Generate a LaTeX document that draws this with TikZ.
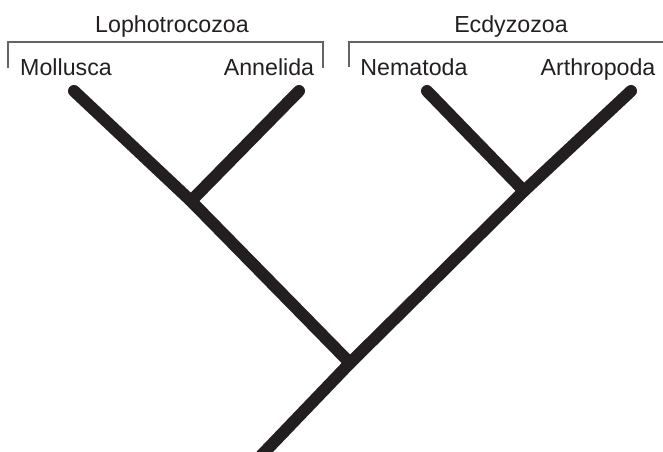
\documentclass[tikz,border=0pt]{standalone}
\usepackage{fontspec}
\setmainfont{Liberation Sans}
\usepackage{tikz}
\usetikzlibrary{positioning}
\definecolor{inkblack}{RGB}{35,31,32}
\definecolor{bracketgray}{RGB}{100,100,102}

\begin{document}
\begin{tikzpicture}[x=0.025cm, y=-0.025cm,
    branch/.style={draw=inkblack, line width=0.3cm, line cap=round},
    trunk/.style={draw=inkblack, line width=0.3cm, line cap=butt},
    taxon/.style={anchor=base, text=inkblack, inner sep=0pt, font=\fontsize{16.5}{19}\selectfont},
    clade/.style={taxon},
    bracket/.style={draw=bracketgray, line width=0.9pt}
]
    \clip (0,0) rectangle (663,452);

    \coordinate (root) at (350,363);
    \coordinate (base) at (255,462);
    \coordinate (lopho) at (191,201);
    \coordinate (ecdy) at (524,191);
    \coordinate (moll) at (74,91);
    \coordinate (anne) at (299,91);
    \coordinate (nema) at (427,91);
    \coordinate (arth) at (631,91);

    \node[taxon] (mollusca) at (66,76) {Mollusca};
    \node[taxon] (annelida) at (269,76) {Annelida};
    \node[taxon] (nematoda) at (414,76) {Nematoda};
    \node[taxon] (arthropoda) at (598,76) {Arthropoda};
    \node[clade] (lophotrocozoa) at (172,33) {Lophotrocozoa};
    \node[clade] (ecdyzozoa) at (511,33) {Ecdyzozoa};

    \draw[bracket] (8,68) -- (8,42) -- (323,42) -- (323,68);
    \draw[bracket] (349,67) -- (349,42) -- (663,42);

    \draw[trunk] (base) -- (root);
    \draw[branch] (root) -- (lopho) -- (moll);
    \draw[branch] (lopho) -- (anne);
    \draw[branch] (root) -- (ecdy) -- (arth);
    \draw[branch] (ecdy) -- (nema);
\end{tikzpicture}
\end{document}
